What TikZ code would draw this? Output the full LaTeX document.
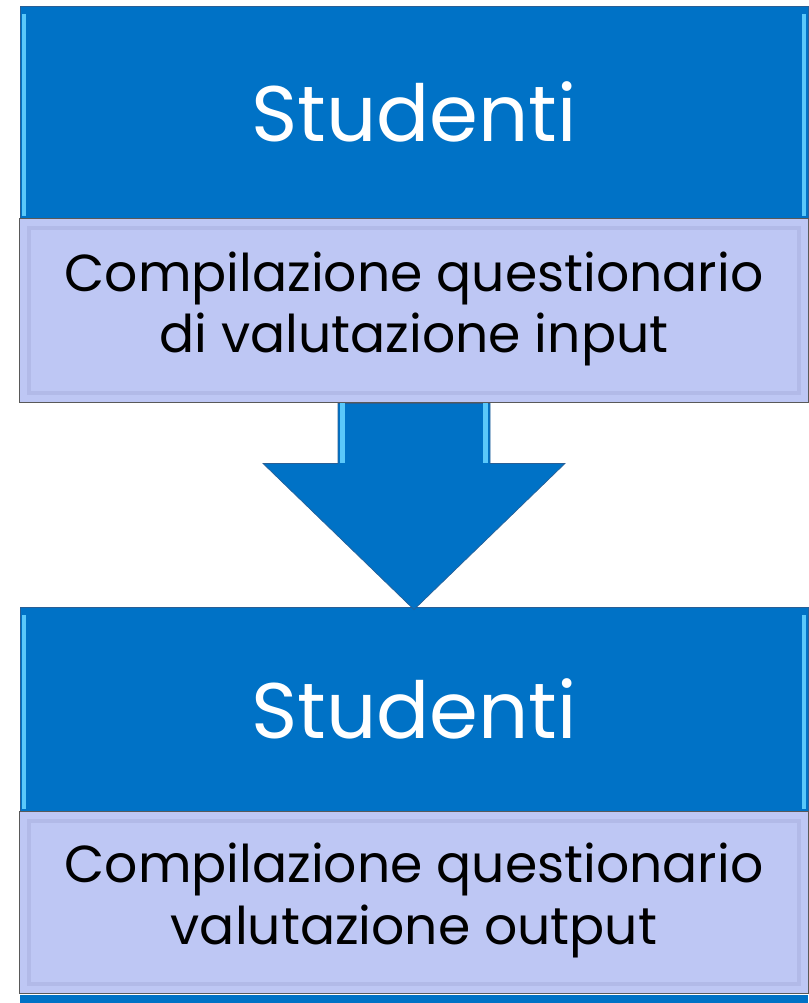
\documentclass[tikz,border=0pt]{standalone}
\usepackage{fontspec}
\setmainfont{Poppins}
\usetikzlibrary{positioning,calc}
\definecolor{kopf}{RGB}{0,114,198}
\definecolor{kante}{RGB}{40,95,150}
\definecolor{glanz}{RGB}{90,200,250}
\definecolor{feld}{RGB}{190,199,244}
\definecolor{feldrand}{RGB}{178,186,232}
\tikzset{
  kopfbox/.style={fill=kopf, draw=kante, line width=0.6pt, text=white,
    minimum width=591pt, minimum height=159pt, inner sep=0pt,
    font=\fontsize{59}{59}\selectfont},
  feldbox/.style={fill=feld, draw=gray!70!black, line width=0.8pt, text=black,
    minimum width=592pt, minimum height=138pt, inner sep=0pt, align=center,
    font=\fontsize{39}{46}\selectfont},
}
\begin{document}
\begin{tikzpicture}[x=0.75pt,y=-0.75pt]
  \useasboundingbox (0,0) rectangle (809,1003);
  % Kästen
  \node[kopfbox] (kopf1) at (414,112) {Studenti};
  \node[feldbox, below=0pt of kopf1] (feld1) {};
  \node[kopfbox, minimum height=153pt] (kopf2) at (414,709) {Studenti};
  \node[feldbox, below=0pt of kopf2, minimum height=136pt] (feld2) {};
  % Rest unten
  \fill[kopf] (20,995) rectangle (808,1003);
  % Glanzkanten
  \foreach \k in {kopf1,kopf2} {
    \fill[glanz] ($(\k.north west)+(2,8)$) rectangle ($(\k.south west)+(6,-2)$);
    \fill[glanz] ($(\k.north east)+(-6,8)$) rectangle ($(\k.south east)+(-2,-2)$);
  }
  \foreach \f in {feld1,feld2} {
    \draw[feldrand, line width=3pt] ($(\f.north west)+(10,10)$) rectangle ($(\f.south east)+(-10,-10)$);
  }
  % Texte
  \node[align=center, font=\fontsize{39}{46}\selectfont] (text1) at ($(feld1.center)+(0,-2)$)
    {Compilazione questionario\\di valutazione input};
  \node[align=center, font=\fontsize{39}{46}\selectfont] (text2) at ($(feld2.center)+(0,-2)$)
    {Compilazione questionario\\valutazione output};
  % Pfeil
  \coordinate (p1) at ($(feld1.south)+(-76,0)$);
  \coordinate (p2) at ($(feld1.south)+(76,0)$);
  \coordinate (spitze) at ($(kopf2.north)+(0,3)$);
  \fill[kopf, draw=kante, line width=0.5pt]
    (p1) -- ($(p1)+(0,60)$) -- ($(p1)+(-75,60)$) -- (spitze)
    -- ($(p2)+(75,60)$) -- ($(p2)+(0,60)$) -- (p2) -- cycle;
  \fill[glanz] ($(p1)+(2,0)$) rectangle ($(p1)+(7,60)$);
  \fill[glanz] ($(p2)+(-7,0)$) rectangle ($(p2)+(-2,60)$);
\end{tikzpicture}
\end{document}
